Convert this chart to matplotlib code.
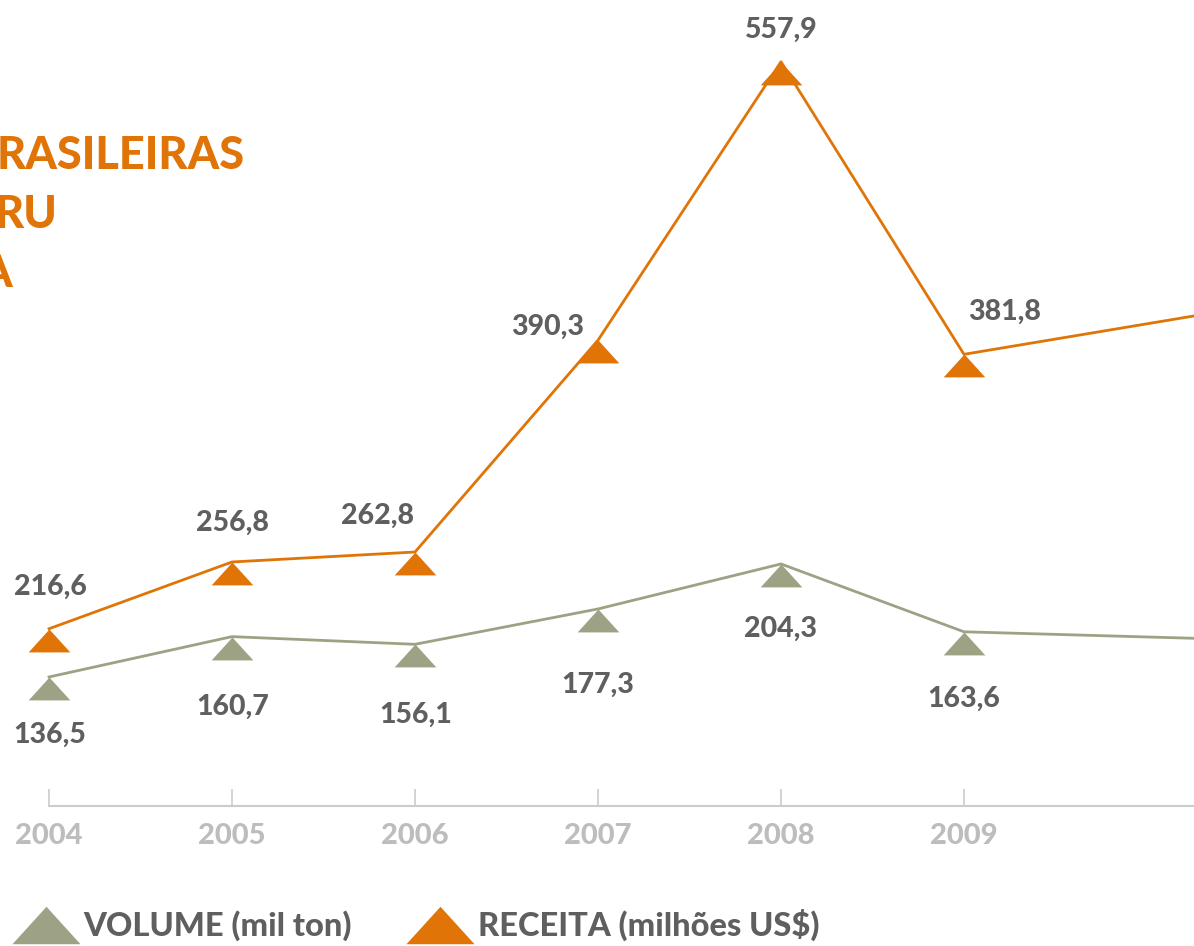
import matplotlib
matplotlib.use("Agg")
import matplotlib.pyplot as plt
from matplotlib.path import Path
from matplotlib.lines import Line2D

plt.rcParams['font.family'] = ['Lato', 'DejaVu Sans']

years = [2004, 2005, 2006, 2007, 2008, 2009]
receita = [216.6, 256.8, 262.8, 390.3, 557.9, 381.8]
volume = [136.5, 160.7, 156.1, 177.3, 204.3, 163.6]

# the lines run on past the right edge (2010 is cut off) - values read at the crop edge
edge_year = 2010.257
receita_edge = 404.9
volume_edge = 159.7

title_lines = ['RASILEIRAS', 'RU', 'A']

ORANGE = '#e07406'
GREEN = '#9da284'
TEXT = '#5f5f5f'
TICK = '#bdbdbd'

# label offsets in pixels from each point (dx, dy up)
receita_off = [(1, 34), (0, 31), (-38, 28), (-50, 5), (0, 24), (41, 35)]
volume_off = [(1, -66), (1, -78), (1, -78), (0, -84), (0, -73), (0, -75)]

# flat triangle, apex on the data point
tri = Path([(0, 0), (-1, -1.1), (1, -1.1), (0, 0)],
           [Path.MOVETO, Path.LINETO, Path.LINETO, Path.CLOSEPOLY])
tri_legend = Path([(0, 0.55), (-1, -0.55), (1, -0.55), (0, 0.55)],
                  [Path.MOVETO, Path.LINETO, Path.LINETO, Path.CLOSEPOLY])


def fmt(v):
    return f"{v:.1f}".replace('.', ',')


fig = plt.figure(figsize=(11.94, 9.46), dpi=100)
ax = fig.add_axes([0, 140 / 946, 1, 806 / 946])
ax2 = ax.twinx()

ax.set_xlim(2003.732, edge_year)
ax.set_ylim(109.9, 595.1)
ax2.set_ylim(59.1, 542.6)

ax.plot(years + [edge_year], receita + [receita_edge], color=ORANGE, lw=2.0, zorder=2)
ax.plot(years, receita, ls='none', marker=tri, ms=33, color=ORANGE, mew=0, zorder=3)
ax2.plot(years + [edge_year], volume + [volume_edge], color=GREEN, lw=2.0, zorder=2)
ax2.plot(years, volume, ls='none', marker=tri, ms=33, color=GREEN, mew=0, zorder=3)

for x, v, (dx, dy) in zip(years, receita, receita_off):
    ax.annotate(fmt(v), (x, v), xytext=(dx, dy), textcoords='offset pixels',
                ha='center', va='baseline', fontsize=20.5, fontweight='black', color=TEXT)
for x, v, (dx, dy) in zip(years, volume, volume_off):
    ax2.annotate(fmt(v), (x, v), xytext=(dx, dy), textcoords='offset pixels',
                 ha='center', va='baseline', fontsize=20.5, fontweight='black', color=TEXT)

for a in (ax, ax2):
    for s in ['top', 'left', 'right']:
        a.spines[s].set_visible(False)
    a.set_facecolor('none')
ax2.spines['bottom'].set_visible(False)
ax2.set_yticks([])
ax.set_yticks([])

ax.spines['bottom'].set_color('#cccccc')
ax.spines['bottom'].set_linewidth(1.5)
ax.spines['bottom'].set_bounds(2004, edge_year)
ax.set_xticks(years)
ax.set_xticklabels([str(y) for y in years])
ax.tick_params(axis='x', direction='in', length=12, width=1.2, color='#cccccc',
               pad=12, labelsize=21, labelcolor=TICK)
for t in ax.get_xticklabels():
    t.set_fontweight('black')

# title is cut by the left edge in the original
ys = [169, 228, 287]
xs = [245, 57, 12]
for txt, x, y in zip(title_lines, xs, ys):
    fig.text(x / 1194, (946 - y) / 946, txt, ha='right', va='baseline',
             fontsize=32.5, fontweight='black', color=ORANGE)

handles = [Line2D([], [], ls='none', marker=tri_legend, ms=49, color=GREEN, mew=0),
           Line2D([], [], ls='none', marker=tri_legend, ms=49, color=ORANGE, mew=0)]
fig.legend(handles, ['VOLUME (mil ton)', 'RECEITA (milhões US$)'], ncol=2,
           loc='center left', bbox_to_anchor=(15 / 1194, 0.022), frameon=False,
           borderpad=0, borderaxespad=0, handlelength=1.9, handletextpad=0.2,
           columnspacing=1.75, prop={'size': 23.5, 'weight': 'black'}, labelcolor=TEXT)

fig.savefig('out.png', dpi=100)
